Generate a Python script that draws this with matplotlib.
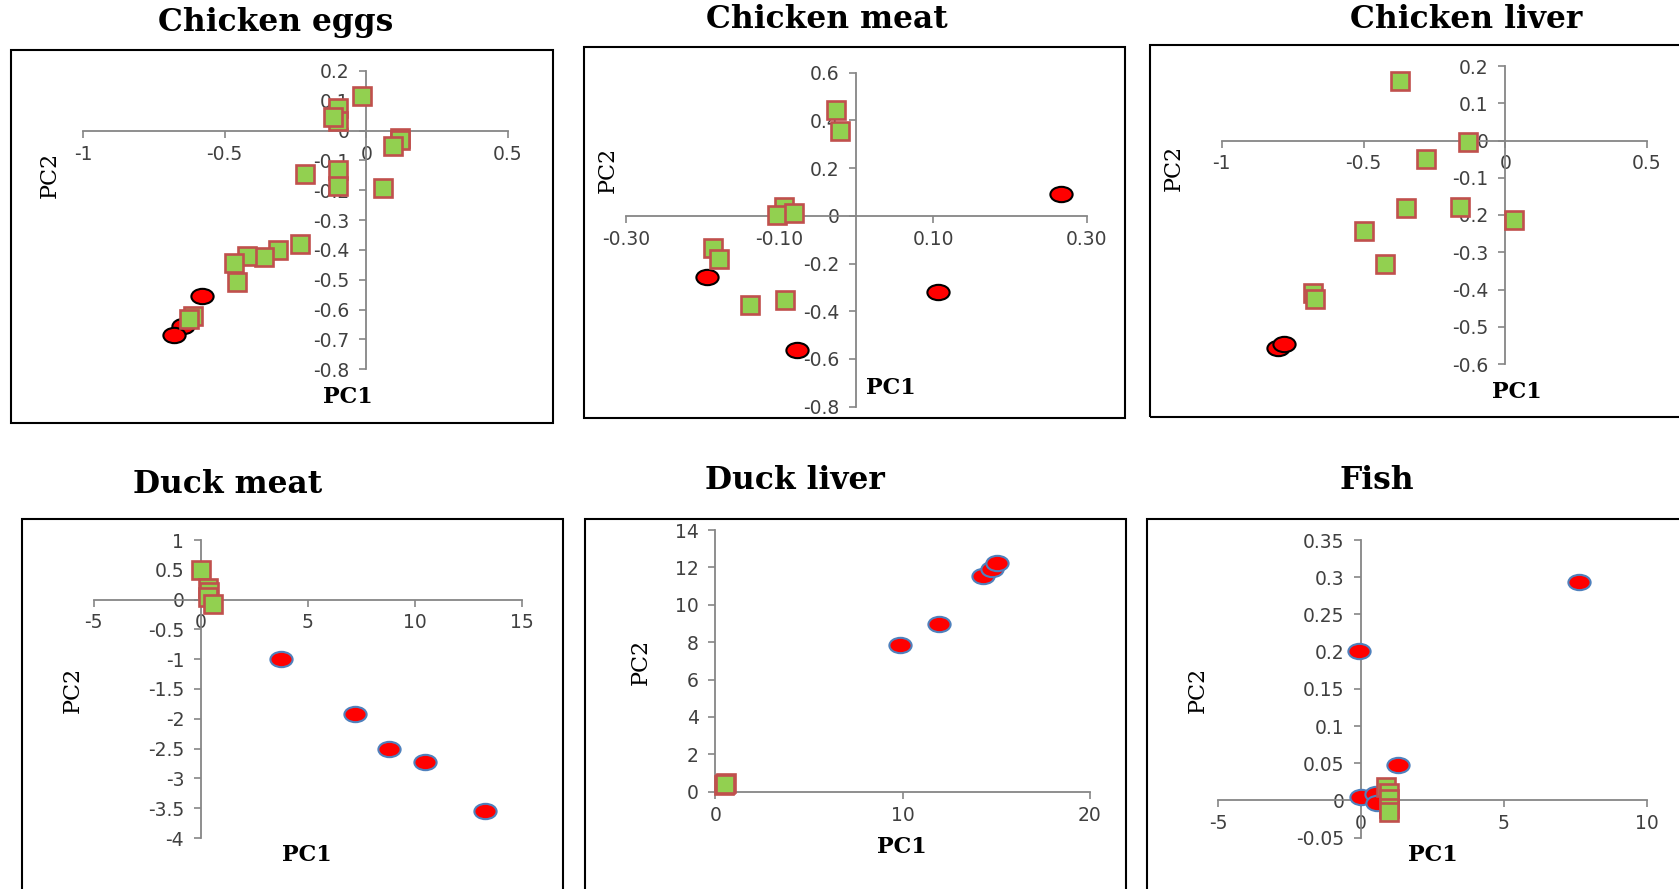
import matplotlib
matplotlib.use("Agg")
import matplotlib.pyplot as plt
from matplotlib.patches import Rectangle
from matplotlib.path import Path
from matplotlib.transforms import Affine2D
from matplotlib.ticker import FuncFormatter

plt.rcParams['axes.unicode_minus'] = False

# ---- scores: squares (green) and circles (red) for each sample type ----
eggs_sq_pc1 = [-0.014, -0.098, -0.098, -0.119, 0.118, 0.12, 0.096, -0.215, -0.098, -0.101, 0.058,
               -0.235, -0.31, -0.36, -0.42, -0.465, -0.456, -0.612, -0.627]
eggs_sq_pc2 = [0.115, 0.076, 0.031, 0.045, -0.025, -0.032, -0.05, -0.144, -0.131, -0.187, -0.192,
               -0.38, -0.40, -0.425, -0.42, -0.445, -0.507, -0.622, -0.631]
eggs_ci_pc1 = [-0.578, -0.647, -0.678]
eggs_ci_pc2 = [-0.555, -0.656, -0.686]

cmeat_sq_pc1 = [-0.027, -0.022, -0.095, -0.104, -0.081, -0.187, -0.179, -0.138, -0.093]
cmeat_sq_pc2 = [0.445, 0.355, 0.035, 0.005, 0.013, -0.135, -0.18, -0.375, -0.353]
cmeat_ci_pc1 = [0.266, -0.195, 0.106, -0.078]
cmeat_ci_pc2 = [0.092, -0.255, -0.32, -0.562]

cliver_sq_pc1 = [-0.37, -0.13, -0.28, -0.35, -0.16, 0.03, -0.50, -0.425, -0.68, -0.672]
cliver_sq_pc2 = [0.16, -0.003, -0.05, -0.18, -0.178, -0.213, -0.242, -0.332, -0.41, -0.425]
cliver_ci_pc1 = [-0.80, -0.78]
cliver_ci_pc2 = [-0.558, -0.545]

dmeat_sq_pc1 = [0.0, 0.33, 0.38, 0.35, 0.55]
dmeat_sq_pc2 = [0.5, 0.2, 0.12, 0.05, -0.07]
dmeat_ci_pc1 = [3.73, 7.2, 8.8, 10.45, 13.25]
dmeat_ci_pc2 = [-1.0, -1.92, -2.5, -2.72, -3.55]

dliver_sq_pc1 = [0.45, 0.55, 0.5]
dliver_sq_pc2 = [0.35, 0.45, 0.4]
dliver_ci_pc1 = [9.84, 11.94, 14.27, 14.76, 15.05]
dliver_ci_pc2 = [7.83, 8.99, 11.52, 11.91, 12.22]

fish_sq_pc1 = [0.86, 0.98, 0.98, 0.98, 0.98]
fish_sq_pc2 = [0.0177, 0.0105, 0.0015, -0.0105, -0.015]
fish_ci_pc1 = [7.62, -0.06, 1.29, 0.0, 0.53, 0.56]
fish_ci_pc2 = [0.294, 0.2008, 0.0477, 0.005, 0.0087, -0.004]

W, H = 1679, 889
fig = plt.figure(figsize=(W / 100, H / 100), dpi=100)
fig.patch.set_facecolor('white')

AXIS_GREY = '#868686'
TICK_TEXT = '#404040'
ellipse = Path.unit_circle().transformed(Affine2D().scale(1.45, 1.0))


def general(v, pos):
    v = round(v, 6)
    if v == 0:
        return '0'
    return '%g' % v


def fixed2(v, pos):
    return '%.2f' % v


def panel(box, frame, title, title_xy, pc2_xy, pc1_xy,
          sq, ci, ci_edge, xlim, ylim, xticks, yticks, xfmt=general):
    l, r, t, b = box
    ax = fig.add_axes([l / W, 1 - b / H, (r - l) / W, (b - t) / H])
    ax.patch.set_alpha(0)
    ax.set_xlim(*xlim)
    ax.set_ylim(*ylim)
    for s in ('top', 'right'):
        ax.spines[s].set_visible(False)
    for s in ('left', 'bottom'):
        ax.spines[s].set_position(('data', 0))
        ax.spines[s].set_color(AXIS_GREY)
        ax.spines[s].set_linewidth(1.3)
    ax.set_xticks(xticks)
    ax.set_yticks(yticks)
    ax.xaxis.set_major_formatter(FuncFormatter(xfmt))
    ax.yaxis.set_major_formatter(FuncFormatter(general))
    ax.tick_params(direction='out', length=5, width=1.2, color=AXIS_GREY,
                   labelcolor=TICK_TEXT, labelsize=13.5)
    ax.tick_params(axis='y', pad=7)
    ax.tick_params(axis='x', pad=5)

    ax.plot(ci[0], ci[1], ls='none', marker=ellipse, ms=16,
            mfc='#FF0000', mec=ci_edge, mew=1.5, clip_on=False, zorder=3)
    ax.plot(sq[0], sq[1], ls='none', marker='s', ms=13.5,
            mfc='#92D050', mec='#C0504D', mew=1.9, clip_on=False, zorder=4)

    fx0, fy0, fx1, fy1 = frame
    fig.add_artist(Rectangle((fx0 / W, 1 - fy1 / H), (fx1 - fx0) / W, (fy1 - fy0) / H,
                             transform=fig.transFigure, fill=False,
                             ec='black', lw=1.5))
    fig.text(title_xy[0] / W, 1 - title_xy[1] / H, title, ha='center',
             va='baseline', family='DejaVu Serif', weight='bold', fontsize=22.5)
    fig.text(pc2_xy[0] / W, 1 - pc2_xy[1] / H, 'PC2', rotation=90, ha='center',
             va='center', family='DejaVu Serif', fontsize=16)
    fig.text(pc1_xy[0] / W, 1 - pc1_xy[1] / H, 'PC1', ha='center',
             va='center', family='DejaVu Serif', weight='bold', fontsize=16)
    return ax


panel((82.9, 507.9, 71, 369.3), (10.7, 50, 552.9, 423.3), 'Chicken eggs', (276, 31),
      (50, 175), (348, 397), (eggs_sq_pc1, eggs_sq_pc2), (eggs_ci_pc1, eggs_ci_pc2), 'black',
      (-1, 0.5), (-0.8, 0.2), [-1, -0.5, 0, 0.5],
      [0.2, 0.1, 0, -0.1, -0.2, -0.3, -0.4, -0.5, -0.6, -0.7, -0.8])

panel((626.1, 1086.8, 72.7, 406.7), (583.6, 46.7, 1125.4, 418.3), 'Chicken meat', (827, 28.5),
      (607.5, 170), (891, 388), (cmeat_sq_pc1, cmeat_sq_pc2), (cmeat_ci_pc1, cmeat_ci_pc2), 'black',
      (-0.3, 0.3), (-0.8, 0.6), [-0.3, -0.1, 0.1, 0.3],
      [0.6, 0.4, 0.2, 0, -0.2, -0.4, -0.6, -0.8], xfmt=fixed2)

panel((1221.8, 1647, 66, 364), (1150.3, 45, 1700, 417.3), 'Chicken liver', (1466, 28.5),
      (1174, 168), (1517, 392), (cliver_sq_pc1, cliver_sq_pc2), (cliver_ci_pc1, cliver_ci_pc2), 'black',
      (-1, 0.5), (-0.6, 0.2), [-1, -0.5, 0, 0.5],
      [0.2, 0.1, 0, -0.1, -0.2, -0.3, -0.4, -0.5, -0.6])

panel((93.8, 522, 540, 838), (21.8, 519, 563.4, 910), 'Duck meat', (228, 492.5),
      (72.7, 690), (307, 855), (dmeat_sq_pc1, dmeat_sq_pc2), (dmeat_ci_pc1, dmeat_ci_pc2), '#4F81BD',
      (-5, 15), (-4, 1), [-5, 0, 5, 10, 15],
      [1, 0.5, 0, -0.5, -1, -1.5, -2, -2.5, -3, -3.5, -4])

panel((715.4, 1089.8, 530, 791.7), (585.3, 519, 1126.2, 910), 'Duck liver', (795, 489),
      (641, 662), (901.5, 847), (dliver_sq_pc1, dliver_sq_pc2), (dliver_ci_pc1, dliver_ci_pc2), '#4F81BD',
      (0, 20), (0, 14), [0, 10, 20], [0, 2, 4, 6, 8, 10, 12, 14])

panel((1218.2, 1646.8, 540, 837.7), (1146.8, 519, 1700, 910), 'Fish', (1377, 489),
      (1198, 690), (1433, 855), (fish_sq_pc1, fish_sq_pc2), (fish_ci_pc1, fish_ci_pc2), '#4F81BD',
      (-5, 10), (-0.05, 0.35), [-5, 0, 5, 10],
      [0.35, 0.3, 0.25, 0.2, 0.15, 0.1, 0.05, 0, -0.05])

fig.savefig('out.png', dpi=100)
